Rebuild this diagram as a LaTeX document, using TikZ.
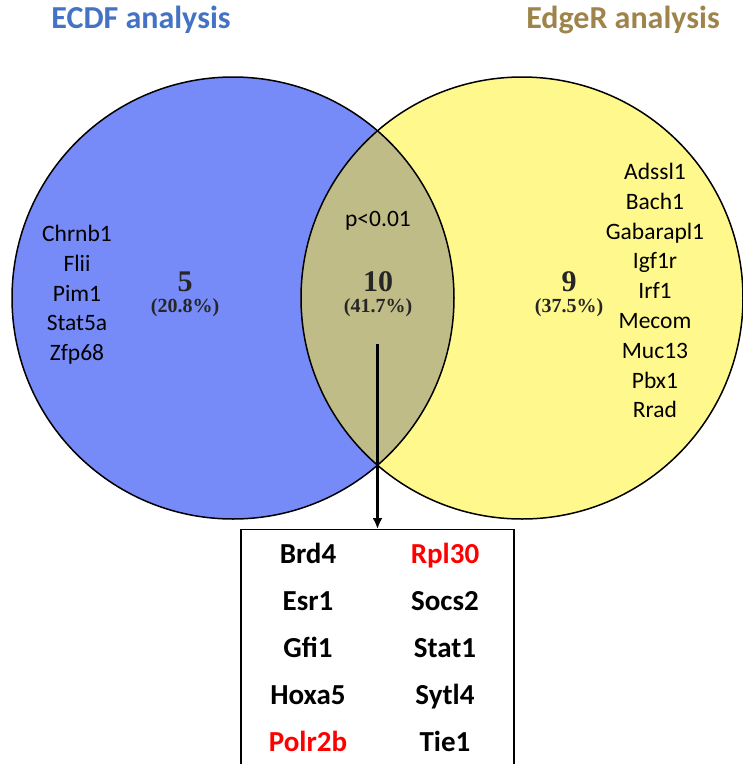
\documentclass[tikz,border=0pt]{standalone}
\usepackage{fontspec}
\setmainfont{Carlito}
\newfontfamily\numfont{Liberation Serif}
\usepackage{xcolor}
\usepackage{tikz}
\usetikzlibrary{arrows.meta}

\definecolor{azulecdf}{RGB}{68,114,196}
\definecolor{ocreedger}{RGB}{158,132,74}
\definecolor{rellenoazul}{RGB}{118,139,247}
\definecolor{rellenoamarillo}{RGB}{255,248,140}
\definecolor{rellenocomun}{RGB}{192,188,136}

\tikzset{
  gen/.style={font=\fontsize{23.5}{23.5}\selectfont, text height=0.68em, text depth=0.2em, inner sep=1pt},
  comun/.style={font=\fontsize{29}{29}\selectfont\bfseries, text height=0.68em, text depth=0.2em, inner sep=1pt},
  cuenta/.style={font=\numfont\fontsize{30}{30}\selectfont\bfseries, text=black!85, inner sep=0pt, text height=0.66em, text depth=0pt},
  porcentaje/.style={font=\numfont\fontsize{20}{20}\selectfont\bfseries, text=black!85, inner sep=0pt, text height=0.68em, text depth=0.18em},
  titulo/.style={font=\fontsize{32}{32}\selectfont\bfseries}
}

\begin{document}
\begin{tikzpicture}[x=1pt, y=-1pt, node distance=29.8pt]
      \useasboundingbox (0,0) rectangle (743,764);

      % Circulos
      \fill[rellenoazul] (233,298) circle (221);
      \fill[rellenoamarillo] (522,298) circle (221);
      \begin{scope}
        \clip (233,298) circle (221);
        \fill[rellenocomun] (522,298) circle (221);
      \end{scope}
      \draw[line width=1.5pt] (233,298) circle (221);
      \draw[line width=1.5pt] (522,298) circle (221);

      % Titulos
      \node[titulo, text=azulecdf] (ecdf) at (141,20) {ECDF analysis};
      \node[titulo, text=ocreedger] (edger) at (623,20) {EdgeR analysis};

      % Conteos
      \node[cuenta] (cinco) at (185,288) {5};
      \node[porcentaje, below of=cinco, node distance=22pt] (pcinco) {(20.8\%)};
      \node[cuenta] (diez) at (378,288) {10};
      \node[porcentaje, below of=diez, node distance=22pt] (pdiez) {(41.7\%)};
      \node[cuenta] (nueve) at (569,288) {9};
      \node[porcentaje, below of=nueve, node distance=22pt] (pnueve) {(37.5\%)};
      \node[gen] (pvalor) at (378,224) {p<0.01};

      % Genes ECDF
      \node[gen] (chrnb) at (77,239) {Chrnb1};
      \node[gen, below of=chrnb] (flii) {Flii};
      \node[gen, below of=flii] (pim) {Pim1};
      \node[gen, below of=pim] (stat5a) {Stat5a};
      \node[gen, below of=stat5a] (zfp) {Zfp68};

      % Genes EdgeR
      \node[gen] (adssl) at (655,177) {Adssl1};
      \node[gen, below of=adssl] (bach) {Bach1};
      \node[gen, below of=bach] (gabarapl) {Gabarapl1};
      \node[gen, below of=gabarapl] (igf) {Igf1r};
      \node[gen, below of=igf] (irf) {Irf1};
      \node[gen, below of=irf] (mecom) {Mecom};
      \node[gen, below of=mecom] (muc) {Muc13};
      \node[gen, below of=muc] (pbx) {Pbx1};
      \node[gen, below of=pbx] (rrad) {Rrad};

      % Caja de genes comunes
      \node[draw, line width=1.2pt, minimum width=273pt, minimum height=235pt, anchor=north] (caja) at (377.5,529) {};
      \node[comun] (brd) at (308,561) {Brd4};
      \node[comun, below of=brd, node distance=47pt] (esr) {Esr1};
      \node[comun, below of=esr, node distance=47pt] (gfi) {Gfi1};
      \node[comun, below of=gfi, node distance=47pt] (hoxa) {Hoxa5};
      \node[comun, below of=hoxa, node distance=47pt, text=red] (polr) {Polr2b};
      \node[comun, right of=brd, node distance=137pt, text=red] (rpl) {Rpl30};
      \node[comun, below of=rpl, node distance=47pt] (socs) {Socs2};
      \node[comun, below of=socs, node distance=47pt] (stat) {Stat1};
      \node[comun, below of=stat, node distance=47pt] (sytl) {Sytl4};
      \node[comun, below of=sytl, node distance=47pt] (tie) {Tie1};

      % Flecha
      \coordinate (inicio) at (377.5,344);
      \draw[-{Latex[length=11pt, width=10pt]}, line width=2.5pt] (inicio) -- (caja.north);
    \end{tikzpicture}
\end{document}
